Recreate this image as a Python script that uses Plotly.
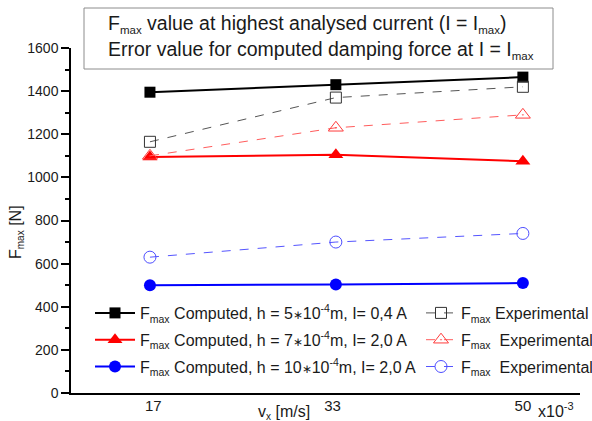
import plotly.graph_objects as go

# data
vx = [16.7, 33.3, 50.0]          # x10^-3 m/s
x_tickvals = [17, 33, 50]
x_ticktext = ["17", "33", "50"]

comp_h5 = [1395, 1430, 1465]
comp_h7 = [1095, 1105, 1075]
comp_h10 = [500, 503, 510]
exp_h5 = [1165, 1370, 1420]
exp_h7 = [1100, 1230, 1290]
exp_h10 = [630, 700, 740]

def sub(t, sz):
    return "<sub><span style='font-size:%gpx'>%s</span></sub>" % (sz, t)

def sup(t, sz):
    return "<sup><span style='font-size:%gpx'>%s</span></sup>" % (sz, t)

AST = "<span style='font-size:12px'>∗</span>"
LS = 10.5  # legend sub size
names_comp = [
    "F" + sub("max", LS) + " Computed, h = 5" + AST + "10" + sup("-4", LS) + "m, I= 0,4 A",
    "F" + sub("max", LS) + " Computed, h = 7" + AST + "10" + sup("-4", LS) + "m, I= 2,0 A",
    "F" + sub("max", LS) + " Computed, h = 10" + AST + "10" + sup("-4", LS) + "m, I= 2,0 A",
]
names_exp = [
    "F" + sub("max", LS) + " Experimental",
    "F" + sub("max", LS) + "&nbsp;&nbsp;Experimental",
    "F" + sub("max", LS) + "&nbsp;&nbsp;Experimental",
]
HS = 11.5  # header sub size
header_lines = [
    "F" + sub("max", HS) + " value at highest analysed current (I = I" + sub("max", HS) + ")",
    "Error value for computed damping force at I = I" + sub("max", HS),
]
y_title = "F" + sub("max", 10) + " [N]"
x_title = "v" + sub("x", 10) + " [m/s]"
x_mult = "x10" + sup("-3", 11)

FONT = "Liberation Sans, Arial, sans-serif"
TXT = "#1a1a1a"

fig = go.Figure()

comp_series = [comp_h5, comp_h7, comp_h10]
comp_colors = ["#000000", "#ff0000", "#0000ff"]
comp_symbols = ["square", "triangle-up", "circle"]
comp_sizes = [11, 13, 12]
for i, (ys, c, s, sz, nm) in enumerate(zip(comp_series, comp_colors, comp_symbols, comp_sizes, names_comp)):
    fig.add_trace(go.Scatter(
        x=vx, y=ys, mode="lines+markers", name=nm,
        line=dict(color=c, width=2),
        marker=dict(symbol=s, size=sz, color=c),
        legend="legend", legendgroup="c%d" % i,
    ))

exp_series = [exp_h5, exp_h7, exp_h10]
exp_line_colors = ["#555555", "#ff5c5c", "#5555ff"]
exp_marker_colors = ["#333333", "#ff3b3b", "#4d4dff"]
exp_symbols = ["square-open", "triangle-up-open-dot", "circle-open"]
exp_sizes = [11, 13, 12]
for i, (ys, lc, mc, s, sz, nm) in enumerate(zip(exp_series, exp_line_colors, exp_marker_colors, exp_symbols, exp_sizes, names_exp)):
    fig.add_trace(go.Scatter(
        x=vx, y=ys, mode="lines+markers", name=nm,
        line=dict(color=lc, width=1, dash="dash"),
        marker=dict(symbol=s, size=sz, color=mc, line=dict(width=1, color=mc)),
        legend="legend2", legendgroup="e%d" % i,
    ))

W, H = 592, 421
ml, mr, mt, mb = 71, 12, 48, 28
pw, ph = W - ml - mr, H - mt - mb

def px(xp):
    return (xp - ml) / pw

def py(yp):
    return (H - mb - yp) / ph

fig.update_layout(
    width=W, height=H,
    margin=dict(l=ml, r=mr, t=mt, b=mb, pad=0, autoexpand=False),
    plot_bgcolor="white", paper_bgcolor="white",
    font=dict(family=FONT, size=15, color=TXT),
    legend=dict(
        x=px(90), y=py(384), xanchor="left", yanchor="bottom",
        bgcolor="rgba(0,0,0,0)", itemwidth=40, tracegroupgap=3,
        font=dict(family=FONT, size=16, color=TXT),
    ),
    legend2=dict(
        x=px(421), y=py(384), xanchor="left", yanchor="bottom",
        bgcolor="rgba(0,0,0,0)", itemwidth=30, tracegroupgap=3,
        font=dict(family=FONT, size=16, color=TXT),
    ),
    xaxis=dict(
        range=[9.65, 55.1], showline=True, linecolor="black", linewidth=1.5,
        tickvals=x_tickvals, ticktext=x_ticktext, ticks="", showgrid=False,
        zeroline=False, tickfont=dict(size=15), ticklabelstandoff=-2,
        automargin=False,
    ),
    yaxis=dict(
        range=[0, 1600], showline=True, linecolor="black", linewidth=1.5,
        dtick=200, ticks="outside", ticklen=8, tickwidth=1.5, tickcolor="black",
        minor=dict(dtick=100, ticks="outside", ticklen=4, tickwidth=1.5, tickcolor="black"),
        showgrid=False, zeroline=False, tickfont=dict(size=14),
        automargin=False,
    ),
    showlegend=True,
)

fig.add_shape(
    type="rect", xref="paper", yref="paper",
    x0=px(84), x1=px(553), y0=py(69), y1=py(8),
    fillcolor="white", line=dict(color="#8c8c8c", width=1), layer="above",
)
for txt, yc in zip(header_lines, [24, 50]):
    fig.add_annotation(
        xref="paper", yref="paper", x=px(106), y=py(yc),
        xanchor="left", yanchor="middle", align="left", showarrow=False,
        text=txt, font=dict(size=19.5, color=TXT),
    )
fig.add_annotation(
    xref="paper", yref="paper", x=px(16), y=py(232),
    xanchor="center", yanchor="middle", textangle=-90, showarrow=False,
    text=y_title, font=dict(size=16, color=TXT),
)
fig.add_annotation(
    xref="paper", yref="paper", x=px(284), y=py(412),
    xanchor="center", yanchor="middle", showarrow=False,
    text=x_title, font=dict(size=16, color=TXT),
)
fig.add_annotation(
    xref="paper", yref="paper", x=px(536), y=py(410),
    xanchor="left", yanchor="middle", showarrow=False,
    text=x_mult, font=dict(size=16, color=TXT),
)

fig.write_html("out.html")
